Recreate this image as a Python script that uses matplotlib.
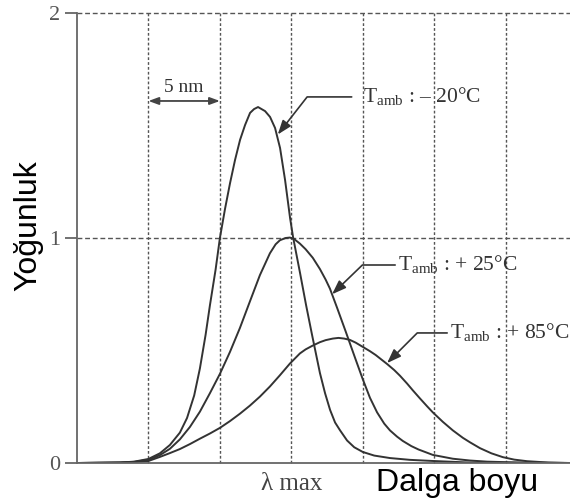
import numpy as np
import matplotlib.pyplot as plt

plt.rcParams['mathtext.fontset'] = 'custom'
plt.rcParams['mathtext.rm'] = 'Liberation Serif'

# dalga boyu ekseni: nm, eksen başlangıcından itibaren (ızgara aralığı 5 nm)
x_minus20 = [0, 3.0, 4.0, 5.0, 5.8, 6.5, 7.2, 7.7, 8.2, 8.6, 9.0, 9.3, 9.7, 10.0, 10.36,
             10.71, 11.06, 11.41, 11.76, 12.11, 12.39, 12.67, 13.16, 13.51, 13.86, 14.21,
             14.56, 14.91, 15.12, 15.61, 16.03, 16.45, 17.0, 17.36, 17.71, 18.06, 18.41,
             18.9, 19.4, 20.0, 20.8, 21.9, 23.3, 24.9, 27.5, 34.5]
y_minus20 = [0, 0.002, 0.006, 0.018, 0.043, 0.08, 0.135, 0.2, 0.3, 0.42, 0.57, 0.7, 0.86,
             1.0, 1.13, 1.244, 1.347, 1.436, 1.502, 1.556, 1.573, 1.582, 1.564, 1.538, 1.489,
             1.4, 1.258, 1.089, 1.004, 0.844, 0.702, 0.569, 0.4, 0.31, 0.236, 0.18, 0.145,
             0.1, 0.07, 0.049, 0.033, 0.022, 0.014, 0.009, 0.002, 0]

x_plus25 = [0, 3.0, 4.0, 5.0, 5.8, 6.5, 7.2, 7.9, 8.6, 9.3, 10.0, 10.7, 11.4, 12.1, 12.8,
            13.5, 13.9, 14.2, 14.6, 14.9, 15.2, 15.6, 16.0, 16.5, 17.0, 17.4, 17.7, 18.2,
            18.8, 19.5, 20.0, 20.5, 21.0, 21.5, 21.9, 22.4, 22.8, 23.4, 23.9, 24.9, 26.3,
            27.5, 28.7, 31.0, 34.5]
y_plus25 = [0, 0.002, 0.005, 0.014, 0.035, 0.063, 0.105, 0.16, 0.228, 0.31, 0.396, 0.493,
            0.6, 0.718, 0.835, 0.932, 0.972, 0.99, 1.0, 1.002, 0.995, 0.975, 0.95, 0.912,
            0.862, 0.815, 0.775, 0.69, 0.585, 0.46, 0.372, 0.29, 0.225, 0.175, 0.145, 0.117,
            0.098, 0.075, 0.06, 0.036, 0.019, 0.011, 0.006, 0.002, 0]

x_plus85 = [0, 3.0, 4.0, 5.0, 5.8, 6.5, 7.2, 7.9, 8.6, 9.3, 10.0, 10.7, 11.4, 12.1, 12.8,
            13.5, 14.2, 14.9, 15.6, 16.0, 16.5, 17.0, 17.4, 17.9, 18.3, 18.7, 19.1, 19.5,
            20.0, 20.5, 20.9, 21.3, 21.7, 22.2, 22.6, 23.1, 23.5, 24.0, 24.5, 24.9, 25.6,
            26.3, 27.0, 27.5, 28.2, 29.0, 29.8, 30.6, 31.5, 33.0, 34.5]
y_plus85 = [0, 0.002, 0.004, 0.009, 0.027, 0.044, 0.062, 0.084, 0.108, 0.131, 0.156, 0.186,
            0.219, 0.255, 0.295, 0.34, 0.39, 0.442, 0.487, 0.505, 0.522, 0.537, 0.546, 0.553,
            0.556, 0.553, 0.547, 0.535, 0.516, 0.497, 0.48, 0.46, 0.44, 0.413, 0.388, 0.353,
            0.323, 0.287, 0.252, 0.225, 0.183, 0.145, 0.112, 0.092, 0.066, 0.043, 0.026,
            0.015, 0.008, 0.002, 0]

grid_x = [5, 10, 15, 20, 25, 30]
grid_y = [1, 2]
y_ticks = [0, 1, 2]
y_ticklabels = ['0', '1', '2']

labels = [r'T$_{\mathrm{amb}}$ : – 20°C', r'T$_{\mathrm{amb}}$ : + 25°C', r'T$_{\mathrm{amb}}$ : + 85°C']

serif = 'Liberation Serif'
sans = 'Liberation Sans'
line_c = '#333333'
grid_c = '#555555'
axis_c = '#666666'

fig = plt.figure(figsize=(5.7, 5.04), dpi=100)
ax = fig.add_axes([77 / 570, 41 / 504, 493 / 570, 450 / 504])
ax.set_xlim(0, 34.5)
ax.set_ylim(0, 2)

# ızgara çizgileri
ax.vlines(grid_x, 0, 2, colors=grid_c, linewidth=1.0, linestyles=(0, (2, 1.5)), clip_on=False)
ax.hlines(grid_y, 0, 34.5, colors=grid_c, linewidth=1.0, linestyles=(0, (3.5, 2)), clip_on=False)

ax.plot(x_minus20, y_minus20, color=line_c, lw=1.4)
ax.plot(x_plus25, y_plus25, color=line_c, lw=1.4)
ax.plot(x_plus85, y_plus85, color=line_c, lw=1.4)

for s in ['top', 'right']:
    ax.spines[s].set_visible(False)
for s in ['left', 'bottom']:
    ax.spines[s].set_color(axis_c)
    ax.spines[s].set_linewidth(1.3)

ax.set_yticks(y_ticks)
ax.set_yticklabels(y_ticklabels, fontfamily=serif, fontsize=16, color='#555555')
ax.tick_params(axis='y', length=9, width=1.3, color=axis_c, pad=3)
ax.set_xticks([15])
ax.set_xticklabels(['λ max'], fontfamily=serif, fontsize=18, color='#444444')
ax.tick_params(axis='x', length=0, pad=7)

ax.set_xlabel('Dalga boyu', fontfamily=sans, fontsize=23, color='black')
ax.xaxis.set_label_coords(0.77, -0.01)
ax.set_ylabel('Yoğunluk', fontfamily=sans, fontsize=23, color='black')
ax.yaxis.set_label_coords(-0.069, 0.527)

# 5 nm ok
ax.annotate('', xy=(10, 1.609), xytext=(5, 1.609),
            arrowprops=dict(arrowstyle='<|-|>,head_length=0.6,head_width=0.22', color='#444444',
                            lw=1.3, shrinkA=0, shrinkB=0))
ax.text(7.5, 1.668, '5 nm', fontfamily=serif, fontsize=14, color='#333333', ha='center', va='center')

arrow = dict(arrowstyle='-|>,head_length=0.55,head_width=0.2', color=line_c, lw=1.2, shrinkB=0)
ax.annotate(labels[0], xy=(14.05, 1.46), xytext=(20.0, 1.627), fontfamily=serif, fontsize=15.5,
            color='#333333', ha='left', va='center',
            arrowprops=dict(arrow, shrinkA=6, connectionstyle='angle,angleA=0,angleB=52,rad=0'))
ax.annotate(labels[1], xy=(17.85, 0.75), xytext=(22.46, 0.88), fontfamily=serif, fontsize=15.5,
            color='#333333', ha='left', va='center',
            arrowprops=dict(arrow, shrinkA=0, connectionstyle='angle,angleA=0,angleB=44,rad=0'))
ax.annotate(labels[2], xy=(21.7, 0.444), xytext=(26.1, 0.578), fontfamily=serif, fontsize=15.5,
            color='#333333', ha='left', va='center',
            arrowprops=dict(arrow, shrinkA=0, connectionstyle='angle,angleA=0,angleB=45,rad=0'))

fig.savefig('out.png', dpi=100)
